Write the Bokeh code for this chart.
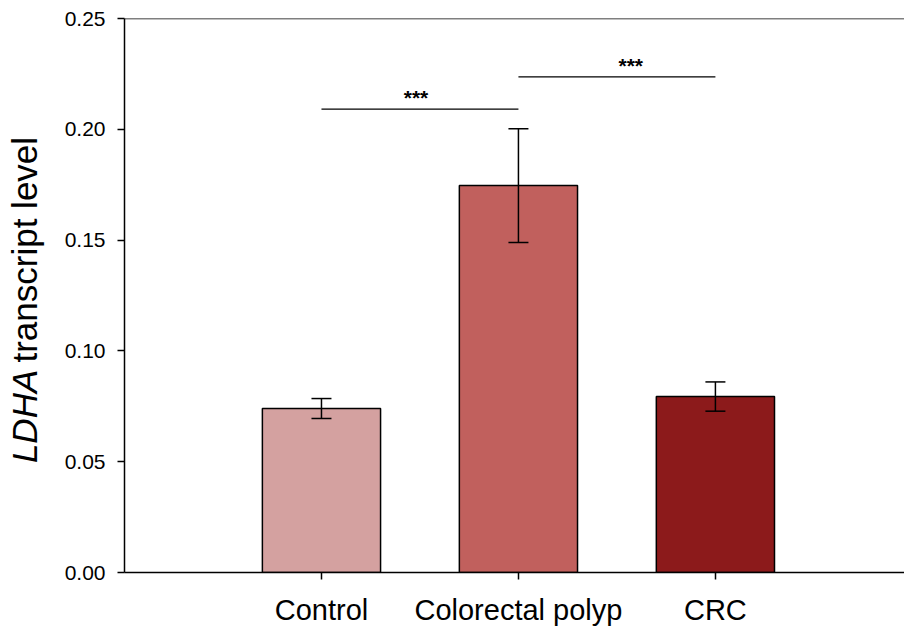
import math
from bokeh.plotting import figure
from bokeh.layouts import row
from bokeh.models import (ColumnDataSource, Whisker, FixedTicker, NumeralTickFormatter,
                          Span, Label, Range1d)
from bokeh.embed import file_html
from bokeh.resources import INLINE

# ---- data ----
categories = ["Control", "Colorectal polyp", "CRC"]
positions = [1, 2, 3]
means = [0.0740, 0.1746, 0.0794]
sem = [0.0045, 0.0257, 0.0066]
colors = ["#D4A1A0", "#C1605D", "#8C1A1B"]
y_ticks = [0.00, 0.05, 0.10, 0.15, 0.20, 0.25]

# significance brackets: (x start, x end, level, star x)
sig_x0 = [1, 2]
sig_x1 = [2, 3]
sig_y = [0.2091, 0.2237]
sig_text_x = [1.48, 2.57]
sig_text = ["***", "***"]

FONT = "Liberation Sans"
LEFT_W = 60
H = 628

# ---- narrow panel for the y-axis title (mixed italic / normal) ----
lab = figure(width=LEFT_W, height=H, output_backend="svg", toolbar_location=None,
             x_range=Range1d(0, LEFT_W), y_range=Range1d(0, H),
             x_axis_location=None, y_axis_location=None,
             min_border_left=0, min_border_right=0, min_border_top=0, min_border_bottom=0)
lab.outline_line_color = None
lab.xgrid.visible = False
lab.ygrid.visible = False
lab.add_layout(Label(x=24, y=124, text="LDHA", angle=math.pi / 2,
                     text_font=FONT, text_font_size="35px", text_font_style="italic",
                     text_align="left", text_baseline="alphabetic", text_color="black"))
lab.add_layout(Label(x=24, y=238, text="transcript level", angle=math.pi / 2,
                     text_font=FONT, text_font_size="35px",
                     text_align="left", text_baseline="alphabetic", text_color="black"))

# ---- main chart ----
p = figure(frame_width=780, frame_height=554, output_backend="svg", toolbar_location=None,
           x_range=Range1d(0, 3.96), y_range=Range1d(0, 0.25),
           min_border_left=124 - LEFT_W, min_border_top=18, min_border_right=0,
           min_border_bottom=H - 18 - 554)
p.outline_line_color = None
p.xgrid.visible = False
p.ygrid.visible = False
p.background_fill_color = "white"

src = ColumnDataSource(dict(x=positions, top=means, color=colors,
                            upper=[m + s for m, s in zip(means, sem)],
                            lower=[m - s for m, s in zip(means, sem)]))
p.vbar(x="x", top="top", width=0.6, bottom=0, fill_color="color",
       line_color="black", line_width=1.5, source=src)

w = Whisker(base="x", upper="upper", lower="lower", source=src,
            line_color="black", line_width=1.5, level="overlay")
w.upper_head.size = 20
w.lower_head.size = 20
w.upper_head.line_width = 1.5
w.lower_head.line_width = 1.5
p.add_layout(w)

# significance lines and stars
p.segment(x0=sig_x0, x1=sig_x1, y0=sig_y, y1=sig_y, line_color="black", line_width=1.2)
for tx, ty, t in zip(sig_text_x, sig_y, sig_text):
    p.add_layout(Label(x=tx, y=ty, y_offset=0, text=t, text_align="center", text_baseline="bottom",
                       text_font=FONT, text_font_size="21px", text_font_style="bold",
                       text_color="black"))

# top line of frame
p.add_layout(Span(location=0.25, dimension="width", line_color="black", line_width=1.5))

# axes styling
for ax in (p.xaxis[0], p.yaxis[0]):
    ax.axis_line_width = 1.5
    ax.major_tick_line_width = 1.5
    ax.major_tick_in = 0
    ax.major_tick_out = 7
    ax.minor_tick_line_color = None
    ax.major_label_text_font = FONT
    ax.major_label_text_color = "black"

p.xaxis.ticker = FixedTicker(ticks=positions)
p.xaxis.major_label_overrides = {pos: c for pos, c in zip(positions, categories)}
p.xaxis.major_label_text_font_size = "29px"
p.xaxis.major_label_standoff = 14

p.yaxis.ticker = FixedTicker(ticks=y_ticks)
p.yaxis.formatter = NumeralTickFormatter(format="0.00")
p.yaxis.major_label_text_font_size = "21px"
p.yaxis.major_label_standoff = 12

layout = row(lab, p, spacing=0)
open("out.html", "w").write(file_html(layout, INLINE))
